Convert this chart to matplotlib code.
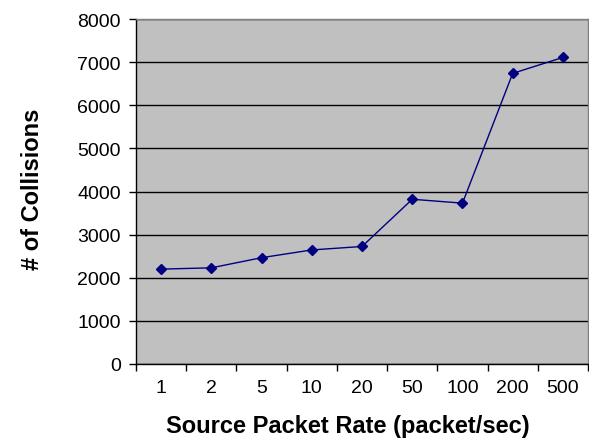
import numpy as np
import matplotlib
matplotlib.use("Agg")
import matplotlib.pyplot as plt
from matplotlib.ticker import FixedLocator, NullFormatter

plt.rcParams['font.family'] = ['Liberation Sans', 'DejaVu Sans']

rates = ["1", "2", "5", "10", "20", "50", "100", "200", "500"]
collisions = [2200, 2230, 2465, 2645, 2725, 3820, 3730, 6740, 7110]
y_ticks = [0, 1000, 2000, 3000, 4000, 5000, 6000, 7000, 8000]

fig = plt.figure(figsize=(5.89, 4.39), dpi=100)
ax = fig.add_axes([0.2309, 0.1686, 0.7675, 0.7858])
ax.set_facecolor('#C0C0C0')

x = np.arange(len(rates))
ax.plot(x, collisions, color='#000080', linewidth=1.0, marker='D',
        markersize=5, markerfacecolor='#000080', markeredgecolor='#000080', zorder=3)

ax.set_xlim(-0.5, len(rates) - 0.5)
ax.set_ylim(0, 8000)

# category boundaries carry the tick marks, centres carry the labels
ax.xaxis.set_major_locator(FixedLocator(np.arange(len(rates) + 1) - 0.5))
ax.xaxis.set_major_formatter(NullFormatter())
ax.xaxis.set_minor_locator(FixedLocator(x))
ax.set_xticklabels(rates, minor=True)
ax.tick_params(axis='x', which='major', direction='out', length=5, width=1, color='black')
ax.tick_params(axis='x', which='minor', length=0, pad=11, labelsize=14)

ax.set_yticks(y_ticks)
ax.tick_params(axis='y', direction='out', length=5, width=1, color='black', labelsize=14, pad=6)

ax.yaxis.grid(True, color='black', linewidth=1.0)
ax.set_axisbelow(True)

for side in ('top', 'right'):
    ax.spines[side].set_color('#808080')
    ax.spines[side].set_linewidth(1.0)
for side in ('left', 'bottom'):
    ax.spines[side].set_color('black')
    ax.spines[side].set_linewidth(1.0)

ax.set_xlabel('Source Packet Rate (packet/sec)', fontsize=17, fontweight='bold', labelpad=13)
ax.set_ylabel('# of Collisions', fontsize=17, fontweight='bold', labelpad=24)
ax.xaxis.label.set_x(0.469)
ax.yaxis.label.set_y(0.51)

fig.savefig('out.png', dpi=100)
